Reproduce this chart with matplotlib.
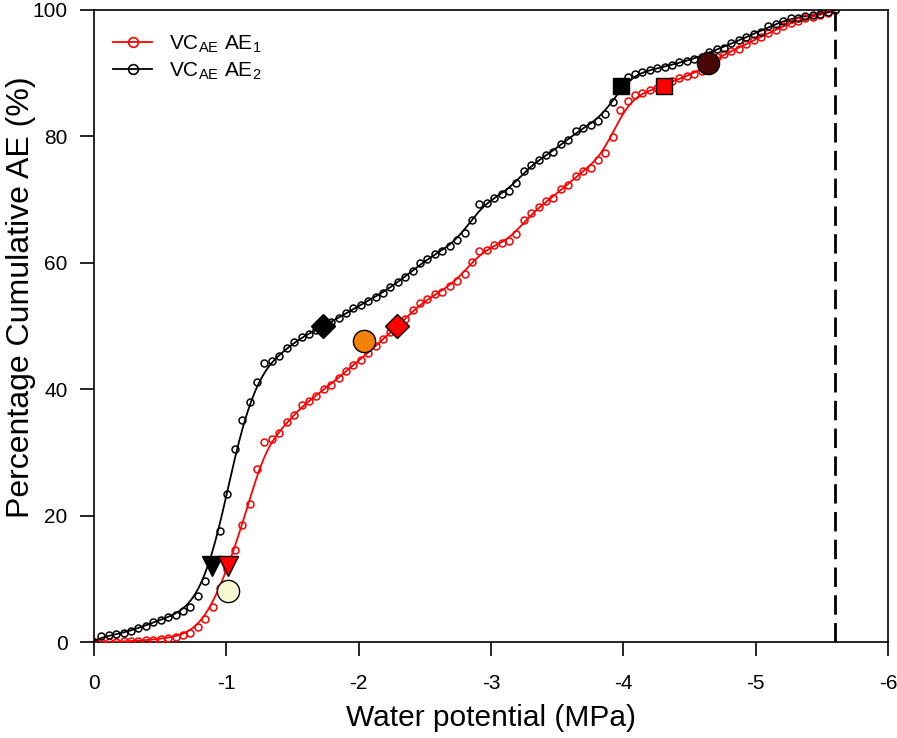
import numpy as np
import matplotlib
matplotlib.use("Agg")
import matplotlib.pyplot as plt

plt.rcParams['font.family'] = ['Liberation Sans', 'DejaVu Sans']
plt.rcParams['mathtext.fontset'] = 'custom'
plt.rcParams['mathtext.rm'] = 'Liberation Sans'
plt.rcParams['mathtext.it'] = 'Liberation Sans:italic'
plt.rcParams['axes.unicode_minus'] = False

# Water potential (MPa) of each acoustic-emission sample
water_potential = [
    0.000, -0.056, -0.112, -0.168, -0.224, -0.280, -0.336, -0.392, -0.448, -0.504,
    -0.560, -0.616, -0.672, -0.728, -0.784, -0.840, -0.896, -0.952, -1.008, -1.064,
    -1.120, -1.176, -1.232, -1.288, -1.344, -1.400, -1.456, -1.512, -1.568, -1.624,
    -1.680, -1.736, -1.792, -1.848, -1.904, -1.960, -2.016, -2.072, -2.128, -2.184,
    -2.240, -2.296, -2.352, -2.408, -2.464, -2.520, -2.576, -2.632, -2.688, -2.744,
    -2.800, -2.856, -2.912, -2.968, -3.024, -3.080, -3.136, -3.192, -3.248, -3.304,
    -3.360, -3.416, -3.472, -3.528, -3.584, -3.640, -3.696, -3.752, -3.808, -3.864,
    -3.920, -3.976, -4.032, -4.088, -4.144, -4.200, -4.256, -4.312, -4.368, -4.424,
    -4.480, -4.536, -4.592, -4.648, -4.704, -4.760, -4.816, -4.872, -4.928, -4.984,
    -5.040, -5.096, -5.152, -5.208, -5.264, -5.320, -5.376, -5.432, -5.488, -5.544,
    -5.600]

cum_ae1 = [
    0.0, 0.0, 0.0, 0.05, 0.1, 0.15, 0.2, 0.3, 0.4, 0.5,
    0.6, 0.85, 1.1, 1.4, 2.4, 3.6, 5.5, 8.5, 11.5, 14.6,
    18.5, 21.9, 27.3, 31.6, 32.1, 33.1, 34.8, 35.9, 37.5, 38.2,
    39.0, 40.0, 40.7, 41.8, 42.9, 43.9, 44.7, 45.8, 46.8, 47.9,
    49.1, 49.8, 51.1, 52.5, 53.6, 54.2, 55.1, 55.4, 56.4, 57.2,
    58.3, 60.2, 61.9, 62.1, 62.8, 63.1, 63.4, 64.5, 66.7, 67.8,
    68.9, 69.7, 70.2, 71.7, 72.3, 73.8, 74.6, 75.0, 76.3, 77.4,
    79.9, 84.1, 85.6, 86.5, 86.9, 87.3, 87.7, 88.0, 88.7, 89.2,
    89.6, 89.9, 90.4, 91.3, 92.6, 93.0, 93.5, 93.9, 94.6, 95.3,
    95.7, 96.4, 96.8, 97.5, 98.0, 98.3, 98.7, 98.9, 99.2, 99.5,
    100.0]

cum_ae2 = [
    0.0, 0.9, 1.1, 1.2, 1.4, 1.8, 2.2, 2.6, 3.2, 3.5,
    3.9, 4.3, 4.9, 5.6, 7.3, 9.7, 13.0, 17.6, 23.4, 30.5,
    35.2, 38.0, 41.2, 44.1, 44.4, 45.3, 46.6, 47.4, 48.3, 48.8,
    49.4, 50.0, 50.6, 51.3, 52.0, 52.8, 53.3, 54.0, 54.6, 55.3,
    56.1, 56.9, 57.8, 58.7, 59.9, 60.6, 61.4, 61.8, 62.7, 63.6,
    64.7, 66.8, 69.3, 69.5, 70.3, 70.9, 71.4, 72.6, 74.6, 75.5,
    76.3, 77.1, 77.5, 78.8, 79.4, 80.8, 81.4, 81.8, 82.5, 83.6,
    85.4, 87.6, 89.4, 89.9, 90.2, 90.5, 90.8, 91.0, 91.3, 91.7,
    92.0, 92.2, 92.6, 93.4, 93.8, 94.0, 94.7, 95.2, 95.8, 96.2,
    96.5, 97.4, 97.8, 98.3, 98.7, 98.8, 99.1, 99.2, 99.4, 99.6,
    100.0]

# Threshold markers (water potential, percentage)
p12_ae1 = (-1.01, 12.0)
p12_ae2 = (-0.89, 12.0)
p50_ae1 = (-2.29, 50.0)
p50_ae2 = (-1.73, 50.0)
p88_ae1 = (-4.31, 88.0)
p88_ae2 = (-3.98, 88.0)
circ_pale = (-1.01, 8.1)
circ_orange = (-2.04, 47.6)
circ_dark = (-4.64, 91.6)
end_potential = -5.6

legend_labels = [r'VC$_{\mathregular{AE}}$ AE$_{\mathregular{1}}$',
                 r'VC$_{\mathregular{AE}}$ AE$_{\mathregular{2}}$']
x_ticks = [0, -1, -2, -3, -4, -5, -6]
y_ticks = [0, 20, 40, 60, 80, 100]


def smooth(x, y, h=0.09, n=600):
    x = np.asarray(x); y = np.asarray(y)
    grid = np.linspace(x.max(), x.min(), n)
    out = []
    for g in grid:
        w = np.exp(-0.5 * ((x - g) / h) ** 2)
        W = w.sum()
        xm = (w * x).sum() / W
        ym = (w * y).sum() / W
        sxx = (w * (x - xm) ** 2).sum()
        sxy = (w * (x - xm) * (y - ym)).sum()
        b = sxy / sxx if sxx > 0 else 0
        out.append(ym + b * (g - xm))
    return grid, np.clip(out, 0, 100)


fig = plt.figure(figsize=(8.97, 7.38), dpi=100)
ax = fig.add_axes([0.1048, 0.130, 0.8852, 0.8565])

for yv, col, lab in [(cum_ae1, 'red', legend_labels[0]), (cum_ae2, 'black', legend_labels[1])]:
    gx, gy = smooth(water_potential, yv)
    ax.plot(gx, gy, color=col, lw=1.3, zorder=3)
    ax.plot(water_potential, yv, ls='none', marker='o', ms=5, mfc='none',
            mec=col, mew=1.1, zorder=4)
    ax.plot([], [], color=col, lw=1.3, marker='o', ms=7, mfc='none', mec=col,
            mew=1.2, label=lab)

ax.axvline(end_potential, ymin=0, ymax=1, color='black', lw=2, ls=(0, (7, 3)), zorder=2)

mk = dict(mec='black', mew=1.0, ls='none', zorder=6)
ax.plot(*p12_ae2, marker='v', ms=15, mfc='black', **mk)
ax.plot(*p12_ae1, marker='v', ms=15, mfc='red', **mk)
ax.plot(*circ_pale, marker='o', ms=16, mfc='#FAFAD2', **mk)
ax.plot(*p50_ae2, marker='D', ms=12, mfc='black', **mk)
ax.plot(*p50_ae1, marker='D', ms=12, mfc='red', **mk)
ax.plot(*circ_orange, marker='o', ms=16, mfc='#F28107', **mk)
ax.plot(*p88_ae2, marker='s', ms=12, mfc='black', **mk)
ax.plot(*p88_ae1, marker='s', ms=12, mfc='red', **mk)
ax.plot(*circ_dark, marker='o', ms=16, mfc='#4A0505', **mk)

ax.set_xlim(0, -6)
ax.set_ylim(0, 100)
ax.set_xticks(x_ticks)
ax.set_xticklabels([str(t) for t in x_ticks])
ax.set_yticks(y_ticks)
ax.tick_params(direction='out', length=10, width=1.2, labelsize=15,
               top=False, right=False)
ax.tick_params(axis='x', pad=13)
ax.tick_params(axis='y', pad=9)
for s in ax.spines.values():
    s.set_linewidth(1.2)

ax.set_xlabel('Water potential (MPa)', fontsize=21.5)
ax.set_ylabel('Percentage Cumulative AE (%)', fontsize=23)
ax.xaxis.set_label_coords(0.5, -0.098)
ax.yaxis.set_label_coords(-0.073, 0.545)

leg = ax.legend(loc='upper left', frameon=False, fontsize=15, handlelength=1.9,
                borderaxespad=0.5, labelspacing=0.25, handletextpad=0.8,
                bbox_to_anchor=(0.0, 0.992))

fig.savefig('out.png', dpi=100)
